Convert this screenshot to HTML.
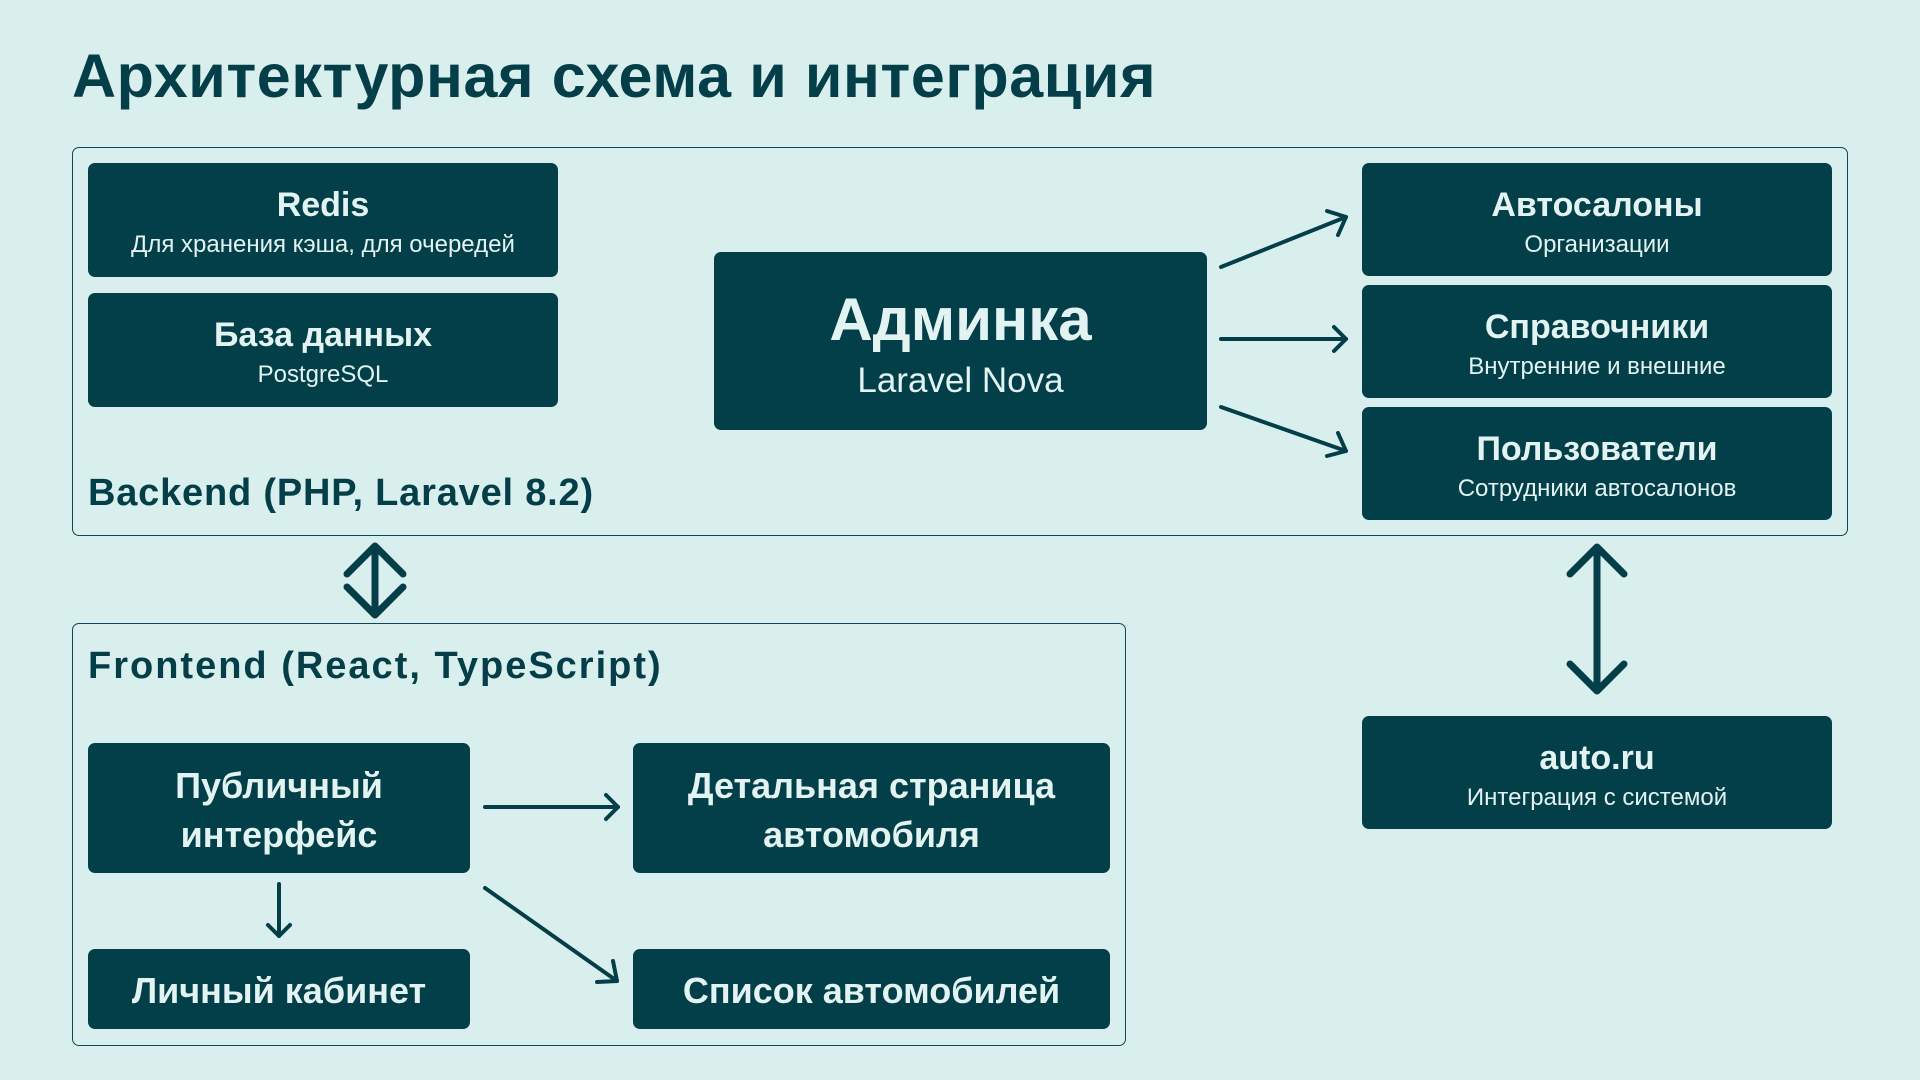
<!DOCTYPE html>
<html><head><meta charset="utf-8"><style>
*{margin:0;padding:0;box-sizing:border-box}
body{width:1920px;height:1080px;background:#d9efee;position:relative;overflow:hidden;font-family:"Liberation Sans","Noto Sans CJK SC",sans-serif;color:#043e48}
.t{position:absolute;left:72px;top:41px;font-size:61px;font-weight:bold;letter-spacing:0.6px;white-space:nowrap}
.grp{position:absolute;border:1.5px solid #0a4a55;border-radius:7px}
.lbl{position:absolute;font-size:38px;font-weight:bold;white-space:nowrap}
.b{position:absolute;background:#033f49;border-radius:7px;color:#e3f3f2;display:flex;flex-direction:column;align-items:center;justify-content:center;text-align:center;padding-top:4px}
.b .h{font-size:34px;font-weight:bold;line-height:42px}
.b .s{font-size:24px;line-height:30px;margin-top:4px}
.f .h{font-size:36px}
svg{position:absolute;left:0;top:0}
</style></head><body>
<div class="t">Архитектурная схема и интеграция</div>
<div class="grp" style="left:72px;top:147px;width:1776px;height:389px"></div>
<div class="grp" style="left:72px;top:623px;width:1054px;height:423px"></div>
<div class="lbl" style="left:88px;top:472px;letter-spacing:0.8px">Backend (PHP, Laravel 8.2)</div>
<div class="lbl" style="left:88px;top:645px;letter-spacing:2px">Frontend (React, TypeScript)</div>

<div class="b" style="left:88px;top:163px;width:470px;height:114px"><div class="h">Redis</div><div class="s">Для хранения кэша, для очередей</div></div>
<div class="b" style="left:88px;top:293px;width:470px;height:114px"><div class="h">База данных</div><div class="s">PostgreSQL</div></div>
<div class="b" style="left:714px;top:252px;width:493px;height:178px"><div class="h" style="font-size:60px;line-height:70px">Админка</div><div class="s" style="font-size:35px;line-height:40px;margin-top:6px">Laravel Nova</div></div>
<div class="b" style="left:1362px;top:163px;width:470px;height:113px"><div class="h">Автосалоны</div><div class="s">Организации</div></div>
<div class="b" style="left:1362px;top:285px;width:470px;height:113px"><div class="h">Справочники</div><div class="s">Внутренние и внешние</div></div>
<div class="b" style="left:1362px;top:407px;width:470px;height:113px"><div class="h">Пользователи</div><div class="s">Сотрудники автосалонов</div></div>
<div class="b" style="left:1362px;top:716px;width:470px;height:113px"><div class="h">auto.ru</div><div class="s">Интеграция с системой</div></div>

<div class="b f" style="left:88px;top:743px;width:382px;height:130px"><div class="h" style="line-height:49px">Публичный<br>интерфейс</div></div>
<div class="b f" style="left:633px;top:743px;width:477px;height:130px"><div class="h" style="line-height:49px">Детальная страница<br>автомобиля</div></div>
<div class="b f" style="left:88px;top:949px;width:382px;height:80px"><div class="h">Личный кабинет</div></div>
<div class="b f" style="left:633px;top:949px;width:477px;height:80px"><div class="h">Список автомобилей</div></div>

<svg width="1920" height="1080" fill="none" stroke="#043e48" stroke-linecap="round" stroke-linejoin="round">
<g stroke-width="4">
<line x1="1221" y1="267" x2="1346" y2="217"/><polyline points="1327,211 1346,217 1338,235"/>
<line x1="1221" y1="339" x2="1346" y2="339"/><polyline points="1334,327 1346,339 1334,351"/>
<line x1="1221" y1="407" x2="1346" y2="451"/><polyline points="1338,433 1346,451 1327,456"/>
<line x1="485" y1="807" x2="618" y2="807"/><polyline points="606,795 618,807 606,819"/>
<line x1="279" y1="884" x2="279" y2="936"/><polyline points="268,925 279,936 290,925"/>
<line x1="485" y1="888" x2="617" y2="981"/><polyline points="597,982 617,981 613,961"/>
</g>
<g stroke-width="7">
<line x1="375" y1="548" x2="375" y2="613"/><polyline points="347,574 375,546 403,574"/><polyline points="347,587 375,615 403,587"/>
<line x1="1597" y1="548" x2="1597" y2="690"/><polyline points="1570,574 1597,547 1624,574"/><polyline points="1570,664 1597,691 1624,664"/>
</g>
</svg>
</body></html>
